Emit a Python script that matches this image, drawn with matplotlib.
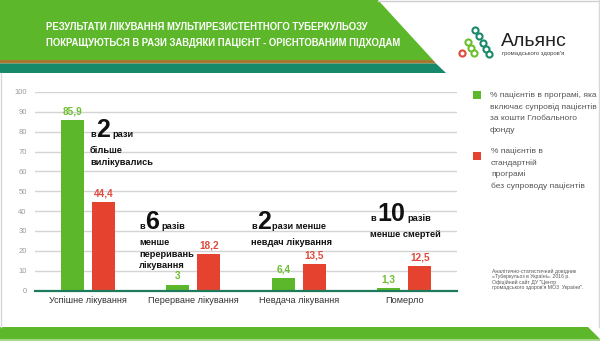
import matplotlib

matplotlib.use("Agg")
import matplotlib.pyplot as plt
from matplotlib import font_manager
from matplotlib.patches import Polygon, Rectangle
import numpy as np

# --- data ---------------------------------------------------------------
categories = ["Успішне лікування", "Перерване лікування", "Невдача лікування", "Померло"]
program_pct = [85.9, 3, 6.4, 1.3]      # with patient support (Global Fund)
standard_pct = [44.4, 18.2, 13.5, 12.5]  # standard programme
y_ticks = [0, 10, 20, 30, 40, 50, 60, 70, 80, 90, 100]

title_lines = [
    "РЕЗУЛЬТАТИ ЛІКУВАННЯ МУЛЬТИРЕЗИСТЕНТНОГО ТУБЕРКУЛЬОЗУ",
    "ПОКРАЩУЮТЬСЯ В РАЗИ ЗАВДЯКИ ПАЦІЄНТ - ОРІЄНТОВАНИМ ПІДХОДАМ",
]
legend_program = ["% пацієнтів в програмі, яка", "включає супровід пацієнтів",
                  "за кошти Глобального", "фонду"]
legend_standard = ["% пацієнтів в", "стандартній", "програмі", "без супроводу пацієнтів"]
source_lines = [
    "Аналітично-статистичний довідник",
    "«Туберкульоз в Україні». 2016 р.",
    "Офіційний сайт ДУ \"Центр",
    "громадського здоров'я МОЗ  України\".",
]
# callouts: small prefix, big number, suffix, extra lines
callouts = [
    ("в", "2", "рази", ["більше", "вилікувались"]),
    ("в", "6", "разів", ["менше", "переривань", "лікування"]),
    ("в", "2", "рази менше", ["невдач лікування"]),
    ("в", "10", "разів", ["менше смертей"]),
]

# --- style --------------------------------------------------------------
GREEN = "#5cb82a"
RED = "#e5432f"
GREEN_TXT = "#6cbf2e"
RED_TXT = "#e0483c"
TEAL = "#15896a"
BROWN = "#a8762e"
GRID = "#d4d4d4"

names = {f.name for f in font_manager.fontManager.ttflist}
NARROW = ["Liberation Sans Narrow", "Liberation Sans", "DejaVu Sans"]
SANS = ["Liberation Sans", "DejaVu Sans"]
has_narrow = "Liberation Sans Narrow" in names

W, H = 600, 341
fig = plt.figure(figsize=(W / 100, H / 100), dpi=100)
fig.patch.set_facecolor("white")

bg = fig.add_axes([0, 0, 1, 1], zorder=0)
bg.set_xlim(0, W)
bg.set_ylim(H, 0)
bg.axis("off")

# header banner
bg.add_patch(Polygon([(0, 0), (378, 0), (433, 60), (0, 60)], closed=True, color=GREEN, lw=0))
bg.add_patch(Polygon([(0, 60), (433, 60), (436, 63.5), (0, 63.5)], closed=True, color=BROWN, lw=0))
bg.add_patch(Polygon([(0, 63.5), (436, 63.5), (446, 73), (0, 73)], closed=True, color=TEAL, lw=0))
# thin frame
bg.plot([378, 599], [0.6, 0.6], color="#cfcfcf", lw=1)
bg.plot([599, 599], [0, 327], color="#d8d8d8", lw=1)
bg.plot([0.8, 0.8], [73, 327], color="#d8d8d8", lw=1)
# footer band
bg.add_patch(Polygon([(0, 327), (588, 327), (600, 339), (0, 339)], closed=True, color=GREEN, lw=0))
bg.add_patch(Rectangle((0, 339), 600, 2, color="#a6d68a", lw=0))

# --- chart --------------------------------------------------------------
ax_l, ax_r, ax_top, ax_bot = 35, 457, 92, 290.5
ax = fig.add_axes([ax_l / W, 1 - ax_bot / H, (ax_r - ax_l) / W, (ax_bot - ax_top) / H], zorder=1)
ax.set_facecolor("none")
x = np.arange(len(categories))
bw, off = 0.218, 0.147
b1 = ax.bar(x - off, program_pct, bw, color=GREEN, zorder=3)
b2 = ax.bar(x + off, standard_pct, bw, color=RED, zorder=3)


def fmt(v):
    return f"{v:g}".replace(".", ",")


for bars, vals, col in ((b1, program_pct, GREEN_TXT), (b2, standard_pct, RED_TXT)):
    for rect, v in zip(bars, vals):
        ax.annotate(fmt(v), (rect.get_x() + rect.get_width() / 2, v), xytext=(0, 2.5),
                    textcoords="offset points", ha="center", va="bottom", color=col,
                    fontsize=7.2, fontweight="bold", family=SANS)

ax.set_xlim(-0.5, len(categories) - 0.5)
ax.set_ylim(0, 100)
ax.set_yticks(y_ticks)
ax.set_yticklabels([str(t) for t in y_ticks], family=SANS, fontsize=5.5, color="#9a9a9a")
ax.set_xticks(x)
ax.set_xticklabels(categories, family=SANS, fontsize=6.6, color="#333333")
ax.tick_params(axis="y", length=0, pad=6)
ax.tick_params(axis="x", length=0, pad=4)
ax.grid(axis="y", color=GRID, linewidth=1)
ax.set_axisbelow(True)
for side in ("top", "right", "left"):
    ax.spines[side].set_visible(False)
ax.spines["bottom"].set_color("#1d7a5c")
ax.spines["bottom"].set_linewidth(1.6)
ax.spines["bottom"].set_zorder(4)

# --- overlay text -------------------------------------------------------
fg = fig.add_axes([0, 0, 1, 1], zorder=5)
fg.set_xlim(0, W)
fg.set_ylim(H, 0)
fg.axis("off")

tsize = 8.0 if has_narrow else 6.85
for i, line in enumerate(title_lines):
    fg.text(46, 27 + 16.5 * i, line, color="white", fontsize=tsize, fontweight="bold",
            family=NARROW, ha="left", va="center")

# logo
ring_dark = [(475, 30), (478.5, 36), (482.5, 43), (486, 49), (489, 54)]
ring_light = [(468, 42), (470.5, 48), (474, 53)]
for (cx, cy) in ring_dark:
    fg.plot(cx, cy, "o", ms=4.4, mfc="white", mec="#1a8a6a", mew=1.5)
for (cx, cy) in ring_light:
    fg.plot(cx, cy, "o", ms=4.4, mfc="white", mec="#6cbf2e", mew=1.5)
fg.plot(462, 53, "o", ms=4.4, mfc="white", mec="#e0483c", mew=1.5)
fg.text(501, 42, "Альянс", fontsize=14, color="#222222", family=SANS, ha="left", va="center")
fg.text(502, 54, "громадського здоров'я", fontsize=4.3, color="#444444", family=SANS,
        ha="left", va="center")

# callouts
bsize = 7.3 if has_narrow else 6.7
callout_pos = [  # (x of "в", baseline y, x of number, x of suffix, first extra baseline)
    (90, 137, 96.5, 112.5, 153),
    (139, 229, 145.5, 161.5, 245),
    (251, 229, 257.5, 272.5, 245),
    (370, 221, 377, 407, 237),
]
for (pre, num, suf, extra), (xp, yb, xn, xs, ye) in zip(callouts, callout_pos):
    fg.text(xp, yb, pre, fontsize=bsize, fontweight="bold", family=NARROW, color="#111111",
            ha="left", va="baseline")
    fg.text(xn, yb, num, fontsize=18, fontweight="bold", family=NARROW, color="#111111",
            ha="left", va="baseline")
    fg.text(xs, yb, suf, fontsize=bsize, fontweight="bold", family=NARROW, color="#111111",
            ha="left", va="baseline")
    for k, line in enumerate(extra):
        fg.text(xp, ye + 11.7 * k, line, fontsize=bsize, fontweight="bold", family=NARROW,
                color="#111111", ha="left", va="baseline")

# legend
fg.add_patch(Rectangle((473, 91), 8, 8, color=GREEN, lw=0))
fg.add_patch(Rectangle((473, 152), 8, 8, color=RED, lw=0))
for k, line in enumerate(legend_program):
    fg.text(490, 95 + 11.7 * k, line, fontsize=6.0, color="#555555", family=SANS,
            ha="left", va="center")
for k, line in enumerate(legend_standard):
    fg.text(491, 151 + 11.7 * k, line, fontsize=6.0, color="#555555", family=SANS,
            ha="left", va="center")

# source note
for k, line in enumerate(source_lines):
    fg.text(492, 271 + 5.6 * k, line, fontsize=3.7, color="#555555", family=SANS,
            ha="left", va="center")

fig.savefig("out.png", dpi=100, facecolor="white")
